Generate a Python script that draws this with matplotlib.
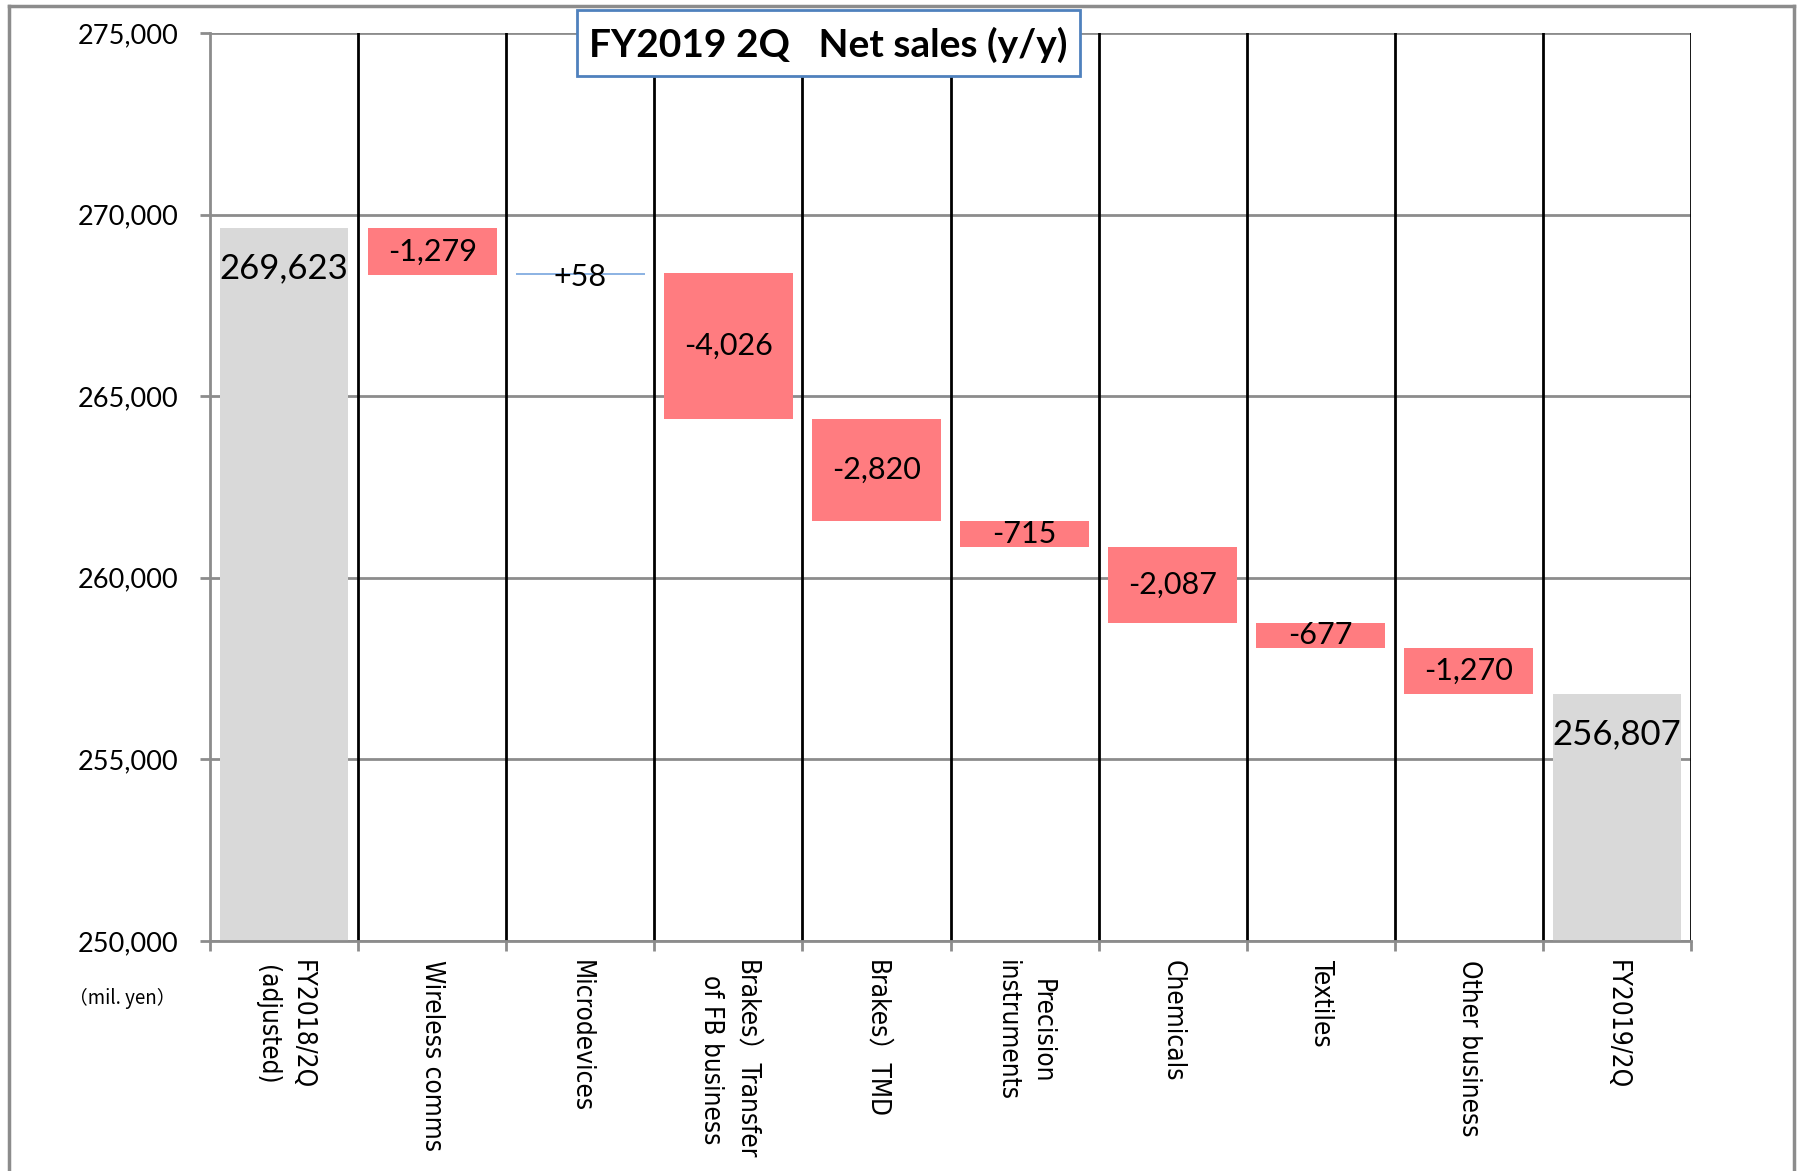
import numpy as np
import matplotlib.pyplot as plt
from matplotlib.patches import Rectangle
from matplotlib.lines import Line2D

# Datos del gráfico (millones de yenes)
categories = ['FY2018/2Q\n(adjusted)', 'Wireless comms', 'Microdevices',
              'Brakes）Transfer\nof FB business', 'Brakes）TMD',
              'Precision\ninstruments', 'Chemicals', 'Textiles',
              'Other business', 'FY2019/2Q']
start_total = 269623
changes = [-1279, 58, -4026, -2820, -715, -2087, -677, -1270]
end_total = 256807
y_ticks = [250000, 255000, 260000, 265000, 270000, 275000]

W, H = 1801, 1171
fig = plt.figure(figsize=(W / 100, H / 100), dpi=100)
ax = fig.add_axes([210 / W, 1 - 941 / H, (1691 - 210) / W, (941 - 33) / H])

red = '#FF7C80'
grey = '#D9D9D9'
blue = '#8EB4E3'
axis_grey = '#8C8C8C'
num_font = 'Lato'

x = np.arange(len(categories))
bw = 0.87

# barras totales
ax.bar([x[0], x[-1]], [start_total, end_total], width=bw, color=grey, zorder=3)

# barras de variación
level = start_total
bottoms = []
for i, ch in enumerate(changes):
    b = min(level, level + ch)
    col = red if ch < 0 else blue
    ax.bar(x[i + 1], abs(ch), bottom=b, width=bw, color=col, zorder=3)
    bottoms.append((b, abs(ch)))
    level += ch

# etiquetas de variación
for i, (ch, (b, h)) in enumerate(zip(changes, bottoms)):
    txt = f'{ch:+,}' if ch > 0 else f'{ch:,}'
    yy = b + h / 2
    dy = -3 if ch > 0 else 0
    ax.annotate(txt, (x[i + 1], yy), xytext=(0, dy), textcoords='offset pixels',
                ha='center', va='center', fontsize=22, family=num_font, zorder=5)

# etiquetas de totales
for xi, v in [(x[0], start_total), (x[-1], end_total)]:
    ax.annotate(f'{v:,}', (xi, v), xytext=(0, -40), textcoords='offset pixels',
                ha='center', va='center', fontsize=25, family=num_font, zorder=5)

ax.set_xlim(-0.5, len(categories) - 0.5)
ax.set_ylim(250000, 275000)

# rejilla horizontal gris
ax.set_yticks(y_ticks)
ax.set_yticklabels([f'{v:,}' for v in y_ticks], family=num_font, fontsize=19.5)
for v in y_ticks:
    ax.axhline(v, color=axis_grey, lw=2, zorder=1)

# líneas verticales negras entre categorías
for b in np.arange(0.5, len(categories), 1.0):
    ax.axvline(b, color='black', lw=2, zorder=2)

ax.set_xticks(x)
ax.set_xticklabels(categories, rotation=270, fontsize=18.8,
                   family=['DejaVu Sans', 'Noto Sans CJK JP'],
                   fontstretch='condensed',
                   va='top', ha='center', multialignment='center',
                   linespacing=1.45)
ax.set_xticks(np.arange(-0.5, len(categories), 1.0), minor=True)
ax.tick_params(axis='x', which='major', length=0, pad=14)
ax.tick_params(axis='x', which='minor', length=7, width=2, color=axis_grey)
ax.tick_params(axis='y', length=7, width=2, color=axis_grey, pad=15.5)

for s in ['top', 'right']:
    ax.spines[s].set_visible(False)
for s in ['left', 'bottom']:
    ax.spines[s].set_color(axis_grey)
    ax.spines[s].set_linewidth(2)
    ax.spines[s].set_zorder(4)

fig.text(122 / W, 1 - 998 / H, '（mil. yen）', ha='center', va='center',
         fontsize=13.5, family=['Noto Sans CJK JP', 'DejaVu Sans'])

# recuadro del título
fig.add_artist(Rectangle((577 / W, 1 - 76 / H), (1080 - 577) / W, (76 - 10) / H,
                         transform=fig.transFigure, facecolor='white',
                         edgecolor='#4F81BD', lw=2, zorder=10))
fig.text(828 / W, 1 - 45 / H, 'FY2019 2Q   Net sales (y/y)', ha='center',
         va='center', fontsize=28, fontweight='bold', family=num_font, zorder=11)

# marco exterior
for xs, ys in [([9, 9], [1171, 6]), ([9, 1794], [6, 6]), ([1794, 1794], [6, 1171])]:
    fig.add_artist(Line2D([v / W for v in xs], [1 - v / H for v in ys],
                          transform=fig.transFigure, color=axis_grey, lw=2.5))

fig.savefig('out.png', dpi=100)
